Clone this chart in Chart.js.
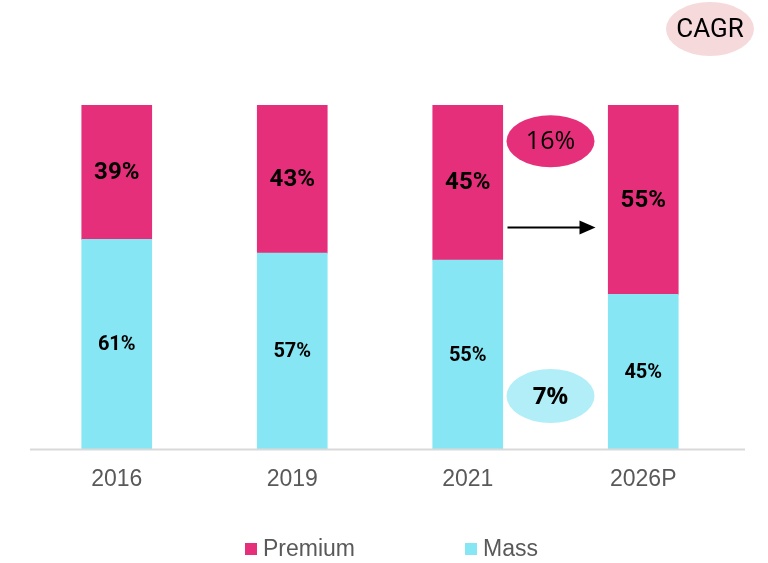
<!DOCTYPE html>
<html>
<head>
<meta charset="utf-8">
<script src="https://cdn.jsdelivr.net/npm/chart.js@4/dist/chart.umd.min.js"></script>
<style>
  html, body { margin: 0; padding: 0; background: #fff; }
  #wrap { width: 768px; height: 563px; position: relative; }
</style>
</head>
<body>
<div id="wrap"><canvas id="chart"></canvas></div>
<script>
const years = ["2016", "2019", "2021", "2026P"];
const massShare = [61, 57, 55, 45];
const premiumShare = [39, 43, 45, 55];
const cagrPremium = "16%";
const cagrMass = "7%";

const PINK = "#E62F7B";
const CYAN = "#87E6F3";

// bar value labels + CAGR bubbles + legend
const overlay = {
  id: "overlay",
  afterDatasetsDraw(chart) {
    const ctx = chart.ctx;
    ctx.save();
    ctx.textAlign = "center";
    ctx.textBaseline = "middle";
    ctx.fillStyle = "#000";
    chart.data.datasets.forEach((ds, i) => {
      const meta = chart.getDatasetMeta(i);
      ctx.font = i === 1 ? "bold 24px Roboto" : "bold 20px Roboto";
      meta.data.forEach((bar, j) => {
        ctx.fillText(ds.data[j] + "%", bar.x, (bar.y + bar.base) / 2 + 1);
      });
    });
    ctx.restore();
  },
  afterDraw(chart) {
    const ctx = chart.ctx;
    const xs = chart.scales.x, ys = chart.scales.y;
    const mid = (xs.getPixelForValue(2) + xs.getPixelForValue(3)) / 2 - 5;
    const ell = (x, y, rx, ry, fill) => {
      ctx.beginPath();
      ctx.ellipse(x, y, rx, ry, 0, 0, Math.PI * 2);
      ctx.fillStyle = fill;
      ctx.fill();
    };
    ctx.save();
    ctx.textAlign = "center";
    ctx.textBaseline = "middle";

    // CAGR tag
    ell(chart.width - 58, 29, 44, 27, "#F6D9DA");
    ctx.fillStyle = "#000";
    ctx.font = "26px Roboto";
    ctx.fillText("CAGR", chart.width - 58, 30);

    // premium growth
    let y = ys.getPixelForValue(89.5);
    ell(mid, y, 44, 26, PINK);
    ctx.fillStyle = "#000";
    ctx.font = "25px 'Open Sans'";
    ctx.fillText(cagrPremium, mid, y + 1);

    // arrow
    y = ys.getPixelForValue(64.4);
    ctx.strokeStyle = "#000";
    ctx.lineWidth = 2;
    ctx.beginPath();
    ctx.moveTo(mid - 43, y);
    ctx.lineTo(mid + 30, y);
    ctx.stroke();
    ctx.beginPath();
    ctx.moveTo(mid + 45, y);
    ctx.lineTo(mid + 29, y - 7);
    ctx.lineTo(mid + 29, y + 7);
    ctx.closePath();
    ctx.fillStyle = "#000";
    ctx.fill();

    // mass growth
    y = ys.getPixelForValue(15.5);
    ell(mid, y, 44, 27, "#B2EEF8");
    ctx.fillStyle = "#000";
    ctx.font = "bold 24px 'Open Sans'";
    ctx.fillText(cagrMass, mid, y + 1);

    // baseline
    ctx.strokeStyle = "#D9D9D9";
    ctx.lineWidth = 2;
    ctx.beginPath();
    ctx.moveTo(30, ys.bottom);
    ctx.lineTo(745, ys.bottom);
    ctx.stroke();

    // legend
    const ly = 549;
    ctx.textAlign = "left";
    ctx.font = "23px 'Liberation Sans'";
    ctx.fillStyle = PINK;
    ctx.fillRect(245, ly - 6, 12, 12);
    ctx.fillStyle = "#595959";
    ctx.fillText("Premium", 263, ly + 1);
    ctx.fillStyle = CYAN;
    ctx.fillRect(465, ly - 6, 12, 12);
    ctx.fillStyle = "#595959";
    ctx.fillText("Mass", 483, ly + 1);
    ctx.restore();
  }
};

new Chart(document.getElementById("chart"), {
  type: "bar",
  data: {
    labels: years,
    datasets: [
      { label: "Mass", data: massShare, backgroundColor: CYAN },
      { label: "Premium", data: premiumShare, backgroundColor: PINK },
    ],
  },
  options: {
    responsive: true,
    maintainAspectRatio: false,
    animation: false,
    datasets: { bar: { barThickness: 70 } },
    layout: { padding: { top: 105, left: 29, right: 37, bottom: 62 } },
    plugins: {
      legend: { display: false },
      tooltip: { enabled: false },
    },
    scales: {
      x: {
        stacked: true,
        grid: { display: false },
        border: { display: false },
        ticks: {
          color: "#595959",
          font: { family: "'Liberation Sans'", size: 23 },
          padding: 8,
        },
      },
      y: {
        stacked: true,
        display: false,
        min: 0,
        max: 100,
      },
    },
  },
  plugins: [overlay],
});
</script>
</body>
</html>
